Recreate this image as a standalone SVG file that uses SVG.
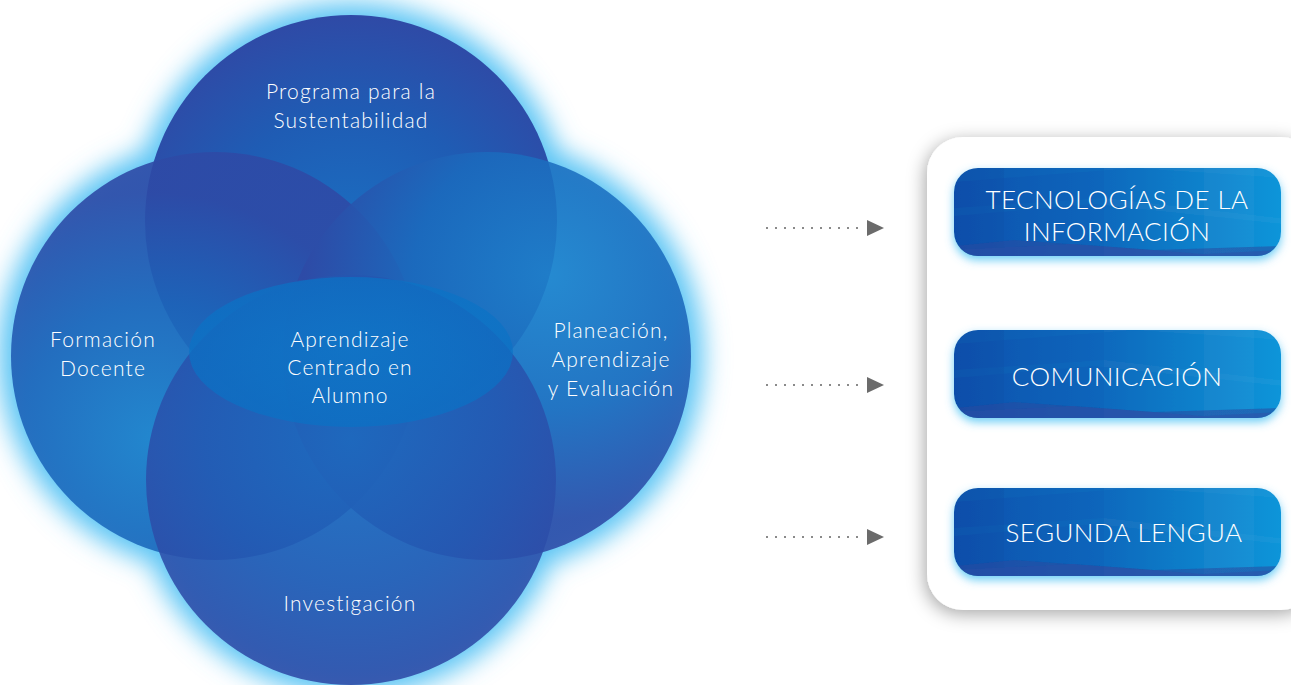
<svg xmlns="http://www.w3.org/2000/svg" width="1291" height="685" viewBox="0 0 1291 685">
  <style>
    .lbl { font-family: Lato, "Open Sans", "Liberation Sans", sans-serif; font-weight: 300; fill: #ffffff; text-anchor: middle; }
    .cl { font-size: 21px; letter-spacing: 1.2px; }
    .bl { font-size: 26px; letter-spacing: 0.4px; }
    .dot { stroke: #8a8a8a; stroke-width: 2; stroke-dasharray: 2 7; fill: none; }
    .tri { fill: #6b6b6b; }
  </style>
  <defs>
    <filter id="glow" x="-20%" y="-20%" width="140%" height="140%">
      <feGaussianBlur stdDeviation="13"/>
    </filter>
    <filter id="panelShadow" x="-10%" y="-10%" width="130%" height="130%">
      <feDropShadow dx="-2" dy="4" stdDeviation="9" flood-color="#000" flood-opacity="0.35"/>
    </filter>
    <filter id="btnGlow" x="-10%" y="-30%" width="120%" height="170%">
      <feDropShadow dx="0" dy="4" stdDeviation="5" flood-color="#5cc8f5" flood-opacity="0.9"/>
    </filter>
    <radialGradient id="gTop" cx="0.5" cy="0.6" r="0.6">
      <stop offset="0" stop-color="#1a72c4"/>
      <stop offset="0.6" stop-color="#1f5cb4"/>
      <stop offset="1" stop-color="#2f4aa6"/>
    </radialGradient>
    <radialGradient id="gLeft" cx="0.35" cy="0.7" r="0.6">
      <stop offset="0" stop-color="#1c80ca"/>
      <stop offset="0.55" stop-color="#1d64b9"/>
      <stop offset="1" stop-color="#2e4aa6"/>
    </radialGradient>
    <radialGradient id="gRight" cx="0.65" cy="0.3" r="0.6">
      <stop offset="0" stop-color="#1e82cc"/>
      <stop offset="0.55" stop-color="#1b6abd"/>
      <stop offset="1" stop-color="#2e4aa6"/>
    </radialGradient>
    <radialGradient id="gBot" cx="0.5" cy="0.4" r="0.6">
      <stop offset="0" stop-color="#1c6cc0"/>
      <stop offset="0.6" stop-color="#2358b2"/>
      <stop offset="1" stop-color="#2f4aa6"/>
    </radialGradient>
    <radialGradient id="gCenter" cx="0.5" cy="0.45" r="0.6">
      <stop offset="0" stop-color="#0a7ccc"/>
      <stop offset="1" stop-color="#0a70c4"/>
    </radialGradient>
    <linearGradient id="gBtn" x1="0" y1="0" x2="1" y2="0">
      <stop offset="0" stop-color="#0b52ae"/>
      <stop offset="0.5" stop-color="#0768bd"/>
      <stop offset="1" stop-color="#0592d8"/>
    </linearGradient>
    <clipPath id="btnClip">
      <rect x="0" y="0" width="327" height="88" rx="24"/>
    </clipPath>
    <g id="btnShape">
      <rect x="0" y="0" width="327" height="88" rx="24" fill="url(#gBtn)"/>
      <g clip-path="url(#btnClip)">
        <polygon points="0,14 180,0 327,10 327,0 0,0" fill="#ffffff" opacity="0.03"/>
        <polygon points="0,40 150,30 327,50 327,56 140,36 0,48" fill="#ffffff" opacity="0.03"/>
        <polygon points="0,0 50,0 50,88 0,88" fill="#000a40" opacity="0.04"/>
        <polygon points="150,0 300,0 300,88 150,88" fill="#ffffff" opacity="0.03"/>
        <polygon points="250,0 327,0 327,88 250,88" fill="#ffffff" opacity="0.03"/>
        <polygon points="0,88 0,78 60,72 200,82 327,78 327,88" fill="#2a4aa0" opacity="0.55"/>
        <polygon points="0,88 0,82 120,76 250,86 327,82 327,88" fill="#2d50a8" opacity="0.5"/>
      </g>
    </g>
  </defs>

  <!-- Venn glow -->
  <g id="venn-glow" filter="url(#glow)" fill="#5ac4f4">
    <circle cx="351" cy="221" r="218"/>
    <circle cx="215" cy="356" r="216"/>
    <circle cx="487" cy="356" r="216"/>
    <circle cx="351" cy="480" r="216"/>
  </g>

  <g id="node-top">
    <circle cx="351" cy="221" r="206" fill="url(#gTop)"/>
  </g>
  <g id="node-left">
    <circle cx="215" cy="356" r="204" fill="url(#gLeft)" opacity="0.9"/>
  </g>
  <g id="node-right">
    <circle cx="487" cy="356" r="204" fill="url(#gRight)" opacity="0.88"/>
  </g>
  <g id="node-bottom">
    <circle cx="351" cy="480" r="205" fill="url(#gBot)" opacity="0.88"/>
  </g>
  <g id="node-center">
    <ellipse cx="351" cy="352" rx="162" ry="75" fill="url(#gCenter)" opacity="0.7"/>
  </g>

  <!-- circle labels -->
  <g id="labels-venn">
    <text class="lbl cl" x="351" y="99">Programa para la</text>
    <text class="lbl cl" x="351" y="128">Sustentabilidad</text>
    <text class="lbl cl" x="103" y="347">Formación</text>
    <text class="lbl cl" x="103" y="376">Docente</text>
    <text class="lbl cl" x="350" y="347">Aprendizaje</text>
    <text class="lbl cl" x="350" y="375">Centrado en</text>
    <text class="lbl cl" x="350" y="403">Alumno</text>
    <text class="lbl cl" x="611" y="338">Planeación,</text>
    <text class="lbl cl" x="611" y="367">Aprendizaje</text>
    <text class="lbl cl" x="611" y="396">y Evaluación</text>
    <text class="lbl cl" x="350" y="611">Investigación</text>
  </g>

  <!-- connectors -->
  <g id="connectors">
    <line class="dot" x1="766" y1="228" x2="862" y2="228"/>
    <polygon class="tri" points="867,220 884,228 867,236"/>
    <line class="dot" x1="766" y1="385" x2="862" y2="385"/>
    <polygon class="tri" points="867,377 884,385 867,393"/>
    <line class="dot" x1="766" y1="537" x2="862" y2="537"/>
    <polygon class="tri" points="867,529 884,537 867,545"/>
  </g>

  <!-- right panel -->
  <g id="panel">
    <rect x="927" y="137" width="390" height="473" rx="36" fill="#ffffff" filter="url(#panelShadow)"/>
  </g>

  <g id="btn-tecnologias" transform="translate(954,168)">
    <g filter="url(#btnGlow)"><use href="#btnShape"/></g>
    <text class="lbl bl" x="163" y="41">TECNOLOGÍAS DE LA</text>
    <text class="lbl bl" x="163" y="73">INFORMACIÓN</text>
  </g>
  <g id="btn-comunicacion" transform="translate(954,330)">
    <g filter="url(#btnGlow)"><use href="#btnShape"/></g>
    <text class="lbl bl" x="163" y="56">COMUNICACIÓN</text>
  </g>
  <g id="btn-segunda" transform="translate(954,488)">
    <g filter="url(#btnGlow)"><use href="#btnShape"/></g>
    <text class="lbl bl" x="170" y="54">SEGUNDA LENGUA</text>
  </g>
</svg>
